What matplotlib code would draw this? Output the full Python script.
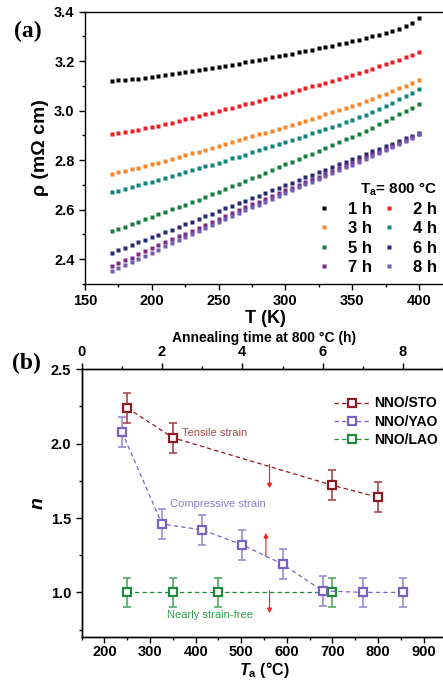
import matplotlib
matplotlib.use("Agg")
import matplotlib.pyplot as plt
from matplotlib.ticker import MultipleLocator

plt.rcParams['font.family'] = ['Liberation Sans', 'DejaVu Sans']
plt.rcParams['font.weight'] = 'bold'
plt.rcParams['mathtext.fontset'] = 'custom'
plt.rcParams['mathtext.rm'] = 'Liberation Sans:bold'
plt.rcParams['mathtext.it'] = 'Liberation Sans:italic:bold'
plt.rcParams['mathtext.bf'] = 'Liberation Sans:bold'

# ---------------- (a) resistivity vs temperature ----------------
temperature = [170, 175, 180, 185, 190, 195, 200, 205, 210, 215, 220, 225,
               230, 235, 240, 245, 250, 255, 260, 265, 270, 275, 280, 285,
               290, 295, 300, 305, 310, 315, 320, 325, 330, 335, 340, 345,
               350, 355, 360, 365, 370, 375, 380, 385, 390, 395, 400]

rho_1h = [3.122, 3.123, 3.125, 3.127, 3.130, 3.133, 3.137, 3.140, 3.144, 3.148,
          3.152, 3.156, 3.160, 3.164, 3.168, 3.172, 3.177, 3.181, 3.186, 3.190,
          3.195, 3.200, 3.205, 3.210, 3.215, 3.220, 3.226, 3.231, 3.236, 3.241,
          3.246, 3.252, 3.257, 3.263, 3.268, 3.274, 3.280, 3.286, 3.293, 3.300,
          3.307, 3.315, 3.323, 3.332, 3.343, 3.356, 3.374]
rho_2h = [2.904, 2.908, 2.913, 2.918, 2.923, 2.929, 2.934, 2.940, 2.946, 2.952,
          2.958, 2.965, 2.971, 2.978, 2.985, 2.992, 2.999, 3.005, 3.012, 3.019,
          3.026, 3.033, 3.040, 3.047, 3.054, 3.061, 3.068, 3.075, 3.083, 3.090,
          3.098, 3.105, 3.113, 3.121, 3.129, 3.136, 3.144, 3.153, 3.161, 3.170,
          3.179, 3.188, 3.197, 3.206, 3.216, 3.226, 3.236]
rho_3h = [2.745, 2.751, 2.757, 2.764, 2.770, 2.777, 2.783, 2.790, 2.798, 2.805,
          2.813, 2.820, 2.828, 2.835, 2.843, 2.850, 2.858, 2.866, 2.873, 2.881,
          2.889, 2.896, 2.904, 2.912, 2.919, 2.927, 2.935, 2.943, 2.951, 2.960,
          2.968, 2.976, 2.985, 2.993, 3.002, 3.010, 3.019, 3.028, 3.038, 3.048,
          3.058, 3.068, 3.079, 3.090, 3.101, 3.112, 3.123]
rho_4h = [2.670, 2.677, 2.684, 2.691, 2.699, 2.706, 2.713, 2.721, 2.728, 2.736,
          2.744, 2.752, 2.759, 2.767, 2.775, 2.782, 2.790, 2.798, 2.807, 2.815,
          2.823, 2.832, 2.840, 2.849, 2.857, 2.866, 2.874, 2.882, 2.891, 2.899,
          2.908, 2.917, 2.926, 2.935, 2.944, 2.953, 2.962, 2.973, 2.984, 2.996,
          3.008, 3.020, 3.033, 3.046, 3.059, 3.073, 3.087]
rho_5h = [2.514, 2.523, 2.532, 2.541, 2.551, 2.561, 2.571, 2.581, 2.591, 2.601,
          2.611, 2.621, 2.631, 2.641, 2.651, 2.662, 2.672, 2.683, 2.694, 2.705,
          2.716, 2.727, 2.738, 2.749, 2.760, 2.772, 2.783, 2.794, 2.805, 2.816,
          2.827, 2.838, 2.850, 2.861, 2.872, 2.884, 2.895, 2.907, 2.920, 2.932,
          2.945, 2.958, 2.972, 2.985, 2.999, 3.013, 3.027]
rho_6h = [2.426, 2.436, 2.447, 2.457, 2.468, 2.478, 2.489, 2.499, 2.510, 2.520,
          2.531, 2.542, 2.552, 2.563, 2.573, 2.584, 2.594, 2.605, 2.615, 2.626,
          2.636, 2.647, 2.657, 2.668, 2.678, 2.689, 2.699, 2.710, 2.720, 2.731,
          2.741, 2.752, 2.762, 2.773, 2.783, 2.794, 2.804, 2.815, 2.825, 2.836,
          2.846, 2.857, 2.867, 2.878, 2.888, 2.899, 2.910]
rho_7h = [2.371, 2.383, 2.395, 2.407, 2.420, 2.432, 2.444, 2.456, 2.468, 2.480,
          2.492, 2.504, 2.516, 2.528, 2.540, 2.552, 2.564, 2.576, 2.587, 2.599,
          2.610, 2.622, 2.633, 2.644, 2.656, 2.667, 2.678, 2.689, 2.700, 2.712,
          2.723, 2.734, 2.745, 2.756, 2.767, 2.779, 2.790, 2.801, 2.812, 2.824,
          2.835, 2.847, 2.858, 2.870, 2.882, 2.894, 2.906]
rho_8h = [2.352, 2.364, 2.377, 2.389, 2.402, 2.414, 2.427, 2.439, 2.452, 2.464,
          2.477, 2.489, 2.502, 2.514, 2.527, 2.539, 2.551, 2.563, 2.575, 2.586,
          2.598, 2.610, 2.621, 2.633, 2.644, 2.656, 2.667, 2.679, 2.690, 2.702,
          2.713, 2.725, 2.736, 2.748, 2.759, 2.771, 2.782, 2.794, 2.806, 2.818,
          2.830, 2.842, 2.854, 2.866, 2.878, 2.890, 2.905]

series_labels = ['1 h', '2 h', '3 h', '4 h', '5 h', '6 h', '7 h', '8 h']
series_colors = ['#000000', '#ED1C24', '#F7862A', '#10837E',
                 '#127D3E', '#272872', '#7E2C86', '#735CB2']
series_values = [rho_1h, rho_2h, rho_3h, rho_4h, rho_5h, rho_6h, rho_7h, rho_8h]

# ---------------- (b) exponent n ----------------
sto_ta = [250, 350, 700, 800]
sto_n = [2.24, 2.04, 1.72, 1.64]
yao_time = [1, 2, 3, 4, 5, 6, 7, 8]
yao_n = [2.08, 1.46, 1.42, 1.32, 1.19, 1.01, 1.00, 1.00]
lao_ta = [250, 350, 450, 700]
lao_n = [1.00, 1.00, 1.00, 1.00]
n_err = 0.10

W, H = 443, 681
fig = plt.figure(figsize=(W / 100, H / 100), dpi=100)


def frac_axes(left, top, right, bottom):
    return fig.add_axes([left / W, 1 - bottom / H, (right - left) / W, (bottom - top) / H])


def style_axes(ax):
    for s in ax.spines.values():
        s.set_linewidth(1.0)
    ax.tick_params(which='major', direction='out', length=4, width=1.0, labelsize=10.5)
    ax.tick_params(which='minor', direction='out', length=2.5, width=1.0)
    for lab in ax.get_xticklabels() + ax.get_yticklabels():
        lab.set_fontweight('bold')


# Panel (a)
ax_a = frac_axes(85, 11.7, 446, 284)
handles_a = []
for vals, col, lab in zip(series_values, series_colors, series_labels):
    h, = ax_a.plot(temperature, vals, linestyle='none', marker='s', ms=2.8,
                   mec='none', mfc=col, label=lab)
    handles_a.append(h)
ax_a.set_xlim(150, 420.2)
ax_a.set_ylim(2.3, 3.4)
ax_a.xaxis.set_major_locator(MultipleLocator(50))
ax_a.xaxis.set_minor_locator(MultipleLocator(25))
ax_a.yaxis.set_major_locator(MultipleLocator(0.2))
ax_a.yaxis.set_minor_locator(MultipleLocator(0.1))
ax_a.spines['right'].set_visible(False)
ax_a.tick_params(top=False, right=False)
style_axes(ax_a)
ax_a.set_xlabel('T (K)', fontsize=13, fontweight='bold', labelpad=1)
ax_a.set_ylabel('ρ (mΩ cm)', fontsize=14, fontweight='bold', labelpad=4)
# row-wise ordering of the two-column legend
order = [0, 2, 4, 6, 1, 3, 5, 7]
leg_a = ax_a.legend([handles_a[i] for i in order], [series_labels[i] for i in order],
                    ncol=2, loc='lower right', bbox_to_anchor=(1.0, 0.0),
                    frameon=False, title='T$_{\\mathrm{a}}$= 800 °C',
                    prop={'weight': 'bold', 'size': 12}, handlelength=0.8,
                    handletextpad=1.05, columnspacing=0.6, labelspacing=0.26,
                    markerscale=1.0, borderaxespad=0.15)
leg_a.get_title().set_fontsize(11)
leg_a.get_title().set_fontweight('bold')
leg_a._legend_box.align = 'right'
fig.text(28 / W, 1 - 31 / H, '(a)', family='Liberation Serif', fontsize=17,
         fontweight='bold', ha='center', va='center')

# Panel (b)
ax_b = frac_axes(81.7, 369.3, 446, 637)
ax_t = ax_b.twiny()

c_sto, e_sto = '#8E1B1F', '#A6484B'
c_yao, e_yao = '#7A63C2', '#9C8CD2'
c_lao, e_lao = '#1E8A3E', '#4FA867'
dash = (0, (3.5, 2.5))

ax_b.errorbar(sto_ta, sto_n, yerr=n_err, fmt='none', ecolor=e_sto,
              elinewidth=1.2, capsize=3.2, capthick=1.2)
ax_b.errorbar(lao_ta, lao_n, yerr=n_err, fmt='none', ecolor=e_lao,
              elinewidth=1.2, capsize=3.2, capthick=1.2)
ax_t.errorbar(yao_time, yao_n, yerr=n_err, fmt='none', ecolor=e_yao,
              elinewidth=1.2, capsize=3.2, capthick=1.2)
l_sto, = ax_b.plot(sto_ta, sto_n, linestyle=dash, lw=0.9, color=c_sto,
                   marker='s', ms=6.2, mfc='white', mec=c_sto, mew=1.6, label='NNO/STO')
l_lao, = ax_b.plot(lao_ta, lao_n, linestyle=dash, lw=0.9, color=c_lao,
                   marker='s', ms=6.2, mfc='white', mec=c_lao, mew=1.6, label='NNO/LAO')
l_yao, = ax_t.plot(yao_time, yao_n, linestyle=dash, lw=0.9, color=c_yao,
                   marker='s', ms=6.2, mfc='white', mec=c_yao, mew=1.6, label='NNO/YAO')

ax_b.set_xlim(150, 949)
ax_t.set_xlim(0, 9.07)
ax_b.set_ylim(0.7, 2.5)
ax_b.xaxis.set_major_locator(MultipleLocator(100))
ax_b.xaxis.set_minor_locator(MultipleLocator(50))
ax_b.yaxis.set_major_locator(MultipleLocator(0.5))
ax_b.yaxis.set_minor_locator(MultipleLocator(0.25))
ax_t.xaxis.set_major_locator(MultipleLocator(2))
ax_t.xaxis.set_minor_locator(MultipleLocator(1))
ax_b.xaxis.set_major_formatter(plt.FuncFormatter(lambda v, p: f'{v:.0f}'))
ax_b.yaxis.set_major_formatter(plt.FuncFormatter(lambda v, p: f'{v:.1f}'))
ax_t.xaxis.set_major_formatter(plt.FuncFormatter(lambda v, p: f'{v:.0f}'))
for ax in (ax_b, ax_t):
    ax.spines['right'].set_visible(False)
    style_axes(ax)
ax_b.tick_params(top=False, right=False)
ax_b.tick_params(axis='x', which='major', pad=2)
ax_t.tick_params(which='both', top=True, bottom=False, right=False)

ax_b.set_xlabel('$T_{\\mathrm{a}}$ (°C)', fontsize=11.5, fontweight='bold', labelpad=0.5)
ax_b.set_ylabel('$n$', fontsize=14, labelpad=3)
ax_t.set_xlabel('Annealing time at 800 °C (h)', fontsize=10, fontweight='bold', labelpad=2)

# strain annotations
ax_b.text(370, 2.07, 'Tensile strain', color='#A54A4D', fontsize=8,
          fontweight='normal', va='center')
ax_b.text(343, 1.595, 'Compressive strain', color='#8E7DCF', fontsize=8,
          fontweight='normal', va='center')
ax_b.text(337, 0.845, 'Nearly strain-free', color='#2F9E4E', fontsize=8,
          fontweight='normal', va='center')
arrow_kw = dict(arrowstyle='-|>', color='#FF1A1A', lw=0.8, mutation_scale=7,
                shrinkA=0, shrinkB=0)
ax_b.annotate('', xy=(562, 1.70), xytext=(562, 1.86), arrowprops=arrow_kw)
ax_b.annotate('', xy=(554, 1.40), xytext=(554, 1.24), arrowprops=arrow_kw)
ax_b.annotate('', xy=(562, 0.86), xytext=(562, 1.01), arrowprops=arrow_kw)

ax_t.legend(handles=[l_sto, l_yao, l_lao], loc='upper right',
            bbox_to_anchor=(1.0, 0.93), frameon=False,
            prop={'weight': 'bold', 'size': 10}, handlelength=2.6,
            handletextpad=0.3, labelspacing=0.3, borderaxespad=0.2)

fig.text(26 / W, 1 - 363 / H, '(b)', family='Liberation Serif', fontsize=17,
         fontweight='bold', ha='center', va='center')

fig.savefig('out.png', dpi=100)
